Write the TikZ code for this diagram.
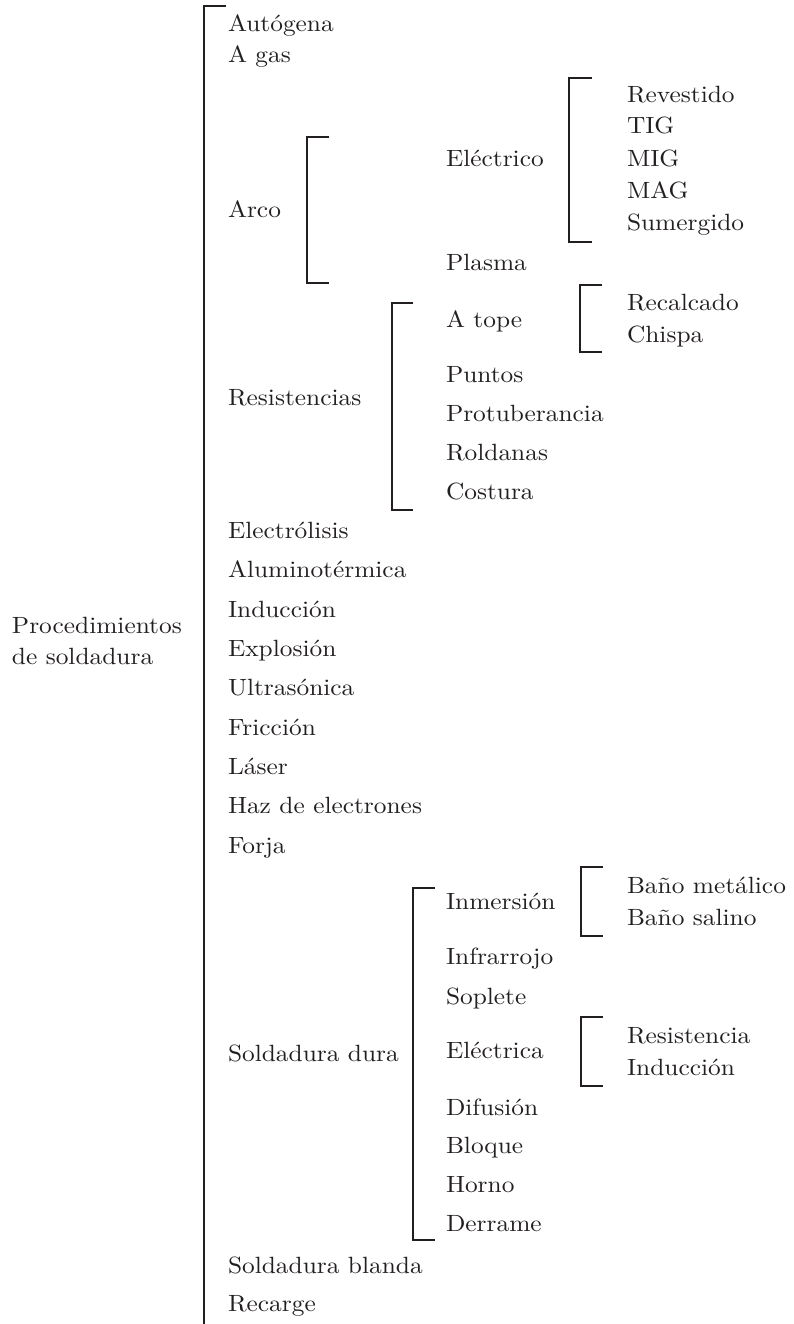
\documentclass[tikz,border=0pt]{standalone}
\usepackage{fontspec}
\setmainfont{lmroman10-regular.otf}[FakeStretch=1.08]
\definecolor{ink}{RGB}{35,31,32}
\begin{document}
\begin{tikzpicture}[x=1pt,y=-1pt,
  lbl/.style={anchor=base west, inner sep=0pt, outer sep=0pt, text=ink, font=\fontsize{23.5}{30}\selectfont},
  brk/.style={draw=ink, line width=2.4pt, line join=miter, line cap=butt}]
\useasboundingbox (0,0) rectangle (793,1324);
% root
\node[lbl] (proc) at (12,633) {Procedimientos};
\node[lbl] (proc2) at (12,664) {de soldadura};
% level 1
\node[lbl] (autogena) at (228,32) {Autógena};
\node[lbl] (agas) at (228,63) {A gas};
\node[lbl] (arco) at (228,218) {Arco};
\node[lbl] (resist) at (228,405) {Resistencias};
\node[lbl] (electrolisis) at (228,538) {Electrólisis};
\node[lbl] (alumino) at (228,577) {Aluminotérmica};
\node[lbl] (induccion) at (228,617) {Inducción};
\node[lbl] (explosion) at (228,656) {Explosión};
\node[lbl] (ultra) at (228,695) {Ultrasónica};
\node[lbl] (friccion) at (228,735) {Fricción};
\node[lbl] (laser) at (228,774) {Láser};
\node[lbl] (haz) at (228,813) {Haz de electrones};
\node[lbl] (forja) at (228,853) {Forja};
\node[lbl] (sdura) at (228,1061) {Soldadura dura};
\node[lbl] (sblanda) at (228,1273) {Soldadura blanda};
\node[lbl] (recarge) at (228,1311) {Recarge};
% level 2
\node[lbl] (electrico) at (446,167) {Eléctrico};
\node[lbl] (plasma) at (446,270) {Plasma};
\node[lbl] (atope) at (446,327) {A tope};
\node[lbl] (puntos) at (446,382) {Puntos};
\node[lbl] (protub) at (446,421) {Protuberancia};
\node[lbl] (roldanas) at (446,460) {Roldanas};
\node[lbl] (costura) at (446,499) {Costura};
\node[lbl] (inmersion) at (446,909) {Inmersión};
\node[lbl] (infrarrojo) at (446,964) {Infrarrojo};
\node[lbl] (soplete) at (446,1004) {Soplete};
\node[lbl] (electrica) at (446,1058) {Eléctrica};
\node[lbl] (difusion) at (446,1115) {Difusión};
\node[lbl] (bloque) at (446,1153) {Bloque};
\node[lbl] (horno) at (446,1192) {Horno};
\node[lbl] (derrame) at (446,1231) {Derrame};
% level 3
\node[lbl] (revestido) at (627,103) {Revestido};
\node[lbl] (tig) at (627,134) {TIG};
\node[lbl] (mig) at (627,167) {MIG};
\node[lbl] (mag) at (627,199) {MAG};
\node[lbl] (sumergido) at (627,231) {Sumergido};
\node[lbl] (recalcado) at (627,310) {Recalcado};
\node[lbl] (chispa) at (627,342) {Chispa};
\node[lbl] (banometal) at (627,893) {Baño metálico};
\node[lbl] (banosal) at (627,925) {Baño salino};
\node[lbl] (resistencia) at (627,1043) {Resistencia};
\node[lbl] (induccion2) at (627,1075) {Inducción};
% brackets
\draw[brk] (226,6) -- (204,6) -- (204,1324);
\draw[brk] (329,137) -- (307,137) -- (307,283) -- (329,283);
\draw[brk] (592,78) -- (569,78) -- (569,242) -- (592,242);
\draw[brk] (413,303) -- (392,303) -- (392,510) -- (413,510);
\draw[brk] (602,285) -- (580,285) -- (580,352) -- (602,352);
\draw[brk] (435,888) -- (413,888) -- (413,1240) -- (435,1240);
\draw[brk] (603,867) -- (581,867) -- (581,936) -- (603,936);
\draw[brk] (603,1017) -- (581,1017) -- (581,1086) -- (603,1086);
\end{tikzpicture}
\end{document}
